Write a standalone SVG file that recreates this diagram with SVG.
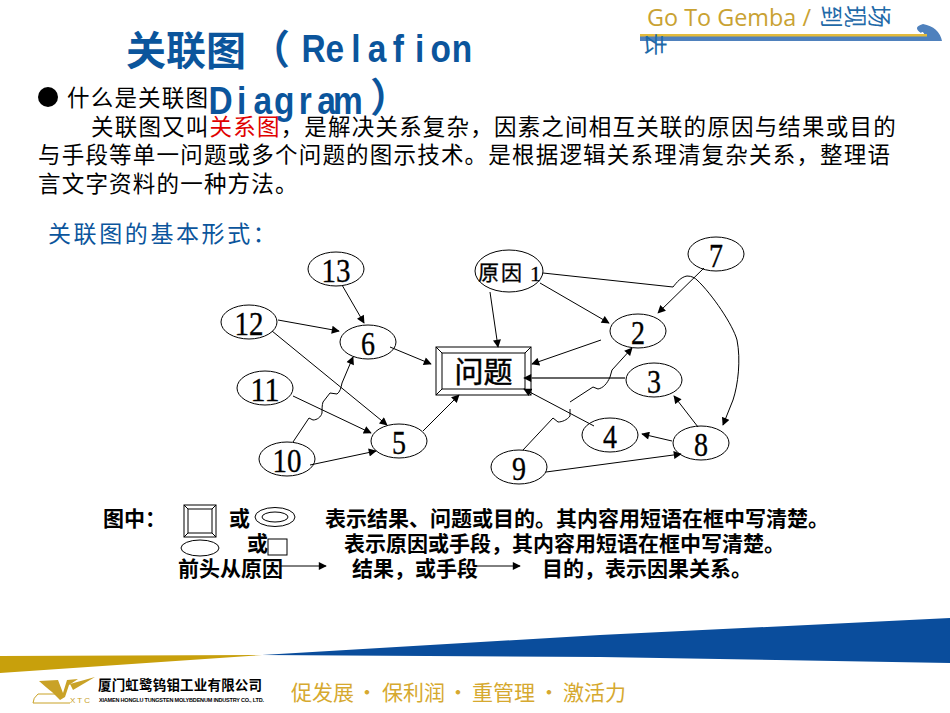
<svg xmlns="http://www.w3.org/2000/svg" width="950" height="713" viewBox="0 0 950 713">
<style>
.n{fill:#fff;stroke:#000;stroke-width:1}
.c{fill:none;stroke:#000;stroke-width:1;marker-end:url(#a)}
.num{font-family:"Liberation Serif",serif;font-size:34px;fill:#000;stroke:#000;stroke-width:.35;text-anchor:middle}
.body{font-family:"Noto Sans CJK SC",sans-serif;font-size:22.500px;letter-spacing:1.200px;fill:#000}
.legend{font-family:"Noto Sans CJK SC",sans-serif;font-size:21px;font-weight:700;fill:#000}
.blue{fill:#0b559c}
.latin{font-family:"Liberation Sans",sans-serif;font-size:38px;font-weight:700;text-anchor:middle}
.cjkt{font-family:"Noto Sans CJK SC",sans-serif;font-size:40px;font-weight:700}
.slogan{font-family:"Noto Sans CJK SC",sans-serif;font-size:21px;fill:#d6a92f}
</style>
<defs>
<marker id="a" viewBox="0 0 10 10" refX="9" refY="5" markerWidth="9" markerHeight="8" markerUnits="userSpaceOnUse" orient="auto"><path d="M0 0L10 5L0 10z" fill="#000"/></marker>
</defs>
<rect width="950" height="713" fill="#fff"/>
<g id="header">
<path d="M640 36H925Q923 30 921 33Q912 27 923 24Q939 27 942 41H640z" fill="#4f81bd"/>
<rect x="640" y="34" width="287" height="2.500" fill="#e3bb3c"/>
<text x="647" y="26" font-family="Open Sans,sans-serif" font-size="24" fill="#c9a232" textLength="164" lengthAdjust="spacingAndGlyphs">Go To Gemba /</text>
<g font-family="Noto Sans CJK SC,sans-serif" font-size="23" fill="#1f6aa8">
<text transform="translate(823 5) rotate(90)">到</text>
<text transform="translate(847 5) rotate(90)">现</text>
<text transform="translate(871 5) rotate(90)">场</text>
<text transform="translate(647 33) rotate(90)">去</text>
</g>
</g>
<g id="title">
<text x="126" y="65" class="cjkt blue">关联图</text>
<text x="250" y="64" class="cjkt blue">（</text>
<g transform="translate(313.500 62) scale(.88 1)"><text class="latin blue" x="0 24.100 48.200 72.300 96.400 120.500 144.600 168.700" y="0">Relafion</text></g>
<circle cx="48" cy="97" r="10" fill="#000"/>
<text x="67" y="106" class="body">什么是关联图</text>
<g transform="translate(220.500 114) scale(.88 1)"><text class="latin blue" x="0 24.100 48.200 72.300 96.400 120.500 144.600" y="0">Diagram</text></g>
<text x="370" y="112" class="cjkt blue">）</text>
</g>
<g id="intro">
<text x="91" y="135" class="body">关联图又叫<tspan fill="#e00000">关系图</tspan>，是解决关系复杂，因素之间相互关联的原因与结果或目的</text>
<text x="38" y="163" class="body">与手段等单一问题或多个问题的图示技术。是根据逻辑关系理清复杂关系，整理语</text>
<text x="38" y="192" class="body">言文字资料的一种方法。</text>
<text x="48" y="242" font-family="Noto Sans CJK SC,sans-serif" font-size="23" letter-spacing="2.600" class="blue">关联图的基本形式：</text>
</g>
<g id="node-13"><ellipse class="n" cx="336" cy="269" rx="28" ry="17"/><text class="num" x="336" y="282" textLength="29" lengthAdjust="spacingAndGlyphs">13</text></g>
<g id="node-12"><ellipse class="n" cx="249" cy="322" rx="28" ry="17"/><text class="num" x="249" y="335" textLength="29" lengthAdjust="spacingAndGlyphs">12</text></g>
<g id="node-6"><ellipse class="n" cx="368" cy="342" rx="28" ry="17"/><text class="num" x="368" y="355" textLength="14" lengthAdjust="spacingAndGlyphs">6</text></g>
<g id="node-11"><ellipse class="n" cx="265" cy="388" rx="28" ry="17"/><text class="num" x="265" y="401" textLength="29" lengthAdjust="spacingAndGlyphs">11</text></g>
<g id="node-5"><ellipse class="n" cx="399" cy="441" rx="28" ry="17"/><text class="num" x="399" y="454" textLength="14" lengthAdjust="spacingAndGlyphs">5</text></g>
<g id="node-10"><ellipse class="n" cx="287" cy="459" rx="28" ry="17"/><text class="num" x="287" y="472" textLength="29" lengthAdjust="spacingAndGlyphs">10</text></g>
<g id="node-1"><ellipse class="n" cx="509" cy="271" rx="34" ry="21"/><text x="478" y="280" font-family="Noto Sans CJK SC,sans-serif" font-size="21" letter-spacing="2" stroke="#000" stroke-width=".3">原因</text><text x="530" y="281" font-family="Liberation Serif,serif" font-size="22" stroke="#000" stroke-width=".3">1</text></g>
<g id="node-7"><ellipse class="n" cx="716" cy="254" rx="28" ry="17"/><text class="num" x="716" y="267" textLength="14" lengthAdjust="spacingAndGlyphs">7</text></g>
<g id="node-2"><ellipse class="n" cx="638" cy="331" rx="28" ry="17"/><text class="num" x="638" y="344" textLength="14" lengthAdjust="spacingAndGlyphs">2</text></g>
<g id="node-3"><ellipse class="n" cx="654" cy="380" rx="28" ry="17"/><text class="num" x="654" y="393" textLength="14" lengthAdjust="spacingAndGlyphs">3</text></g>
<g id="node-4"><ellipse class="n" cx="610" cy="435" rx="28" ry="17"/><text class="num" x="610" y="448" textLength="14" lengthAdjust="spacingAndGlyphs">4</text></g>
<g id="node-8"><ellipse class="n" cx="701" cy="443" rx="28" ry="17"/><text class="num" x="701" y="456" textLength="14" lengthAdjust="spacingAndGlyphs">8</text></g>
<g id="node-9"><ellipse class="n" cx="519" cy="467" rx="28" ry="17"/><text class="num" x="519" y="480" textLength="14" lengthAdjust="spacingAndGlyphs">9</text></g>
<g id="node-problem">
<rect x="436" y="347" width="95" height="48" fill="#fff" stroke="#000"/>
<rect x="442" y="353" width="83" height="36" fill="#fff" stroke="#000"/>
<path d="M436 347L442 353M531 347L525 353M436 395L442 389M531 395L525 389" stroke="#000" fill="none"/>
<text x="483.500" y="383" text-anchor="middle" font-family="Noto Sans CJK SC,sans-serif" font-size="29" stroke="#000" stroke-width=".5">问题</text>
</g>
<g id="connectors">
<path class="c" d="M342 285L364 323"/>
<path class="c" d="M278 320L339 331"/>
<path class="c" d="M272 331L387 425"/>
<path class="c" d="M293 396L371 433"/>
<path class="c" d="M310 465L376 451"/>
<path class="c" d="M293 442L309 418L313 420C317 420 321 417 322 413C322 409 322 405 323 402L330 393L337 394C340 392 341 388 342 383L353 357"/>
<path class="c" d="M390 347L431 364"/>
<path class="c" d="M423 431L459 395"/>
<path class="c" d="M490 292L498 347"/>
<path class="c" d="M540 283L609 323"/>
<path class="c" d="M601 340L532 364"/>
<path class="c" d="M625 378H524" style="stroke:#666;stroke-width:1.800"/>
<path class="c" d="M594 426L524 389"/>
<path class="c" d="M523 450L553 418L558 422C562 422 567 420 570 416V409M570 402L593 387L598 389C603 388 607 384 610 377L612 370L632 348"/>
<path class="c" d="M546 472L681 454"/>
<path class="c" d="M672 441L642 434"/>
<path class="c" d="M698 427L674 396"/>
<path class="c" d="M704 268L658 313"/>
<path class="c" d="M543 273L673 287C677 282 681 277 687 276C692 276 695 278 697 280C712 294 733 325 737 340C741 360 738 385 733 400L723 425"/>
</g>
<g id="legend">
<text x="103" y="526" class="legend">图中：</text>
<rect x="184" y="505" width="32" height="32" fill="#fff" stroke="#000"/><rect x="188" y="509" width="24" height="24" fill="#fff" stroke="#000"/>
<path d="M184 505L188 509M216 505L212 509M184 537L188 533M216 537L212 533" stroke="#000"/>
<text x="229" y="526" class="legend">或</text>
<ellipse cx="275" cy="517" rx="20" ry="9.500" fill="#fff" stroke="#000"/><ellipse cx="275" cy="517" rx="13" ry="5" fill="#fff" stroke="#000"/>
<text x="325" y="526" class="legend">表示结果、问题或目的。其内容用短语在框中写清楚。</text>
<ellipse cx="200" cy="548" rx="19" ry="8" fill="#fff" stroke="#000"/>
<rect x="268" y="539" width="19" height="16" fill="#fff" stroke="#000"/>
<text x="247" y="551" class="legend">或</text>
<text x="344" y="551" class="legend">表示原因或手段，其内容用短语在框中写清楚。</text>
<text x="178" y="576" class="legend">前头从原因</text>
<path d="M281 566H326" fill="none" stroke="#000" marker-end="url(#a)"/>
<text x="352" y="576" class="legend">结果，或手段</text>
<path d="M476 566H520" fill="none" stroke="#000" marker-end="url(#a)"/>
<text x="542" y="576" class="legend">目的，表示因果关系。</text>
</g>
<g id="footer">
<path d="M0 656L262 655L0 673z" fill="#c8a00c"/>
<path d="M262 655L600 635L950 618V663L600 657z" fill="#0a4d9c"/>
<path d="M39 681L58 680L63 693L67 680L78 679L69 685L65 697L60 700L52 692Q48 689 39 681z" fill="#c9a227"/>
<path d="M70 684L95 677L73 690z" fill="#c9a227"/>
<path d="M55 694H38Q33 698 33 703H70" fill="none" stroke="#c9a227"/>
<text x="70" y="703" font-family="Liberation Sans,sans-serif" font-size="8" fill="#c9a227" textLength="20">XTC</text>
<text x="98" y="690" font-family="Noto Sans CJK SC,sans-serif" font-size="13.500" font-weight="700" textLength="164">厦门虹鹭钨钼工业有限公司</text>
<text x="99" y="702" font-family="Liberation Sans,sans-serif" font-size="5.500" font-weight="700" textLength="165">XIAMEN HONGLU TUNGSTEN MOLYBDENUM INDUSTRY CO., LTD.</text>
<text x="291" y="700" class="slogan">促发展</text><text x="367" y="700" class="slogan" text-anchor="middle">·</text>
<text x="382" y="700" class="slogan">保利润</text><text x="458" y="700" class="slogan" text-anchor="middle">·</text>
<text x="472" y="700" class="slogan">重管理</text><text x="549" y="700" class="slogan" text-anchor="middle">·</text>
<text x="563" y="700" class="slogan">激活力</text>
</g>
</svg>
